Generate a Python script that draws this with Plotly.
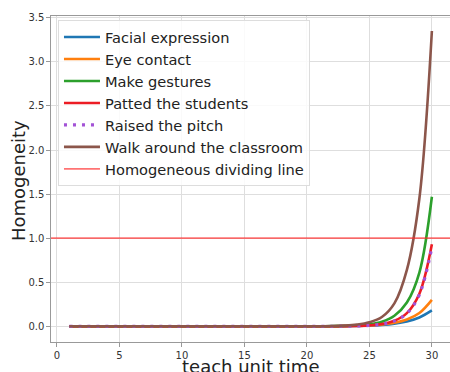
import plotly.graph_objects as go

# ---- data ----
teach_time = list(range(1, 31))

facial_expression = [0.0, 0.0, 0.0, 0.0, 0.0, 0.0, 0.0, 0.0, 0.0, 0.0,
                     0.0, 0.0, 0.0, 0.00001, 0.00002, 0.00004, 0.00007, 0.00012, 0.0002, 0.00035,
                     0.0007, 0.0013, 0.0024, 0.0045, 0.0085, 0.016, 0.03, 0.055, 0.10, 0.18]
eye_contact = [0.0, 0.0, 0.0, 0.0, 0.0, 0.0, 0.0, 0.0, 0.0, 0.0,
               0.0, 0.0, 0.0, 0.00001, 0.00002, 0.00004, 0.00007, 0.00012, 0.0002, 0.00035,
               0.0007, 0.0014, 0.0028, 0.0055, 0.011, 0.021, 0.04, 0.077, 0.15, 0.30]
make_gestures = [0.0, 0.0, 0.0, 0.0, 0.0, 0.0, 0.0, 0.0, 0.0, 0.0,
                 0.0, 0.0, 0.0, 0.0, 0.0, 0.00001, 0.00002, 0.00004, 0.0001, 0.0003,
                 0.0007, 0.0017, 0.004, 0.0095, 0.022, 0.052, 0.12, 0.27, 0.61, 1.47]
patted_students = [0.0, 0.0, 0.0, 0.0, 0.0, 0.0, 0.0, 0.0, 0.0, 0.0,
                   0.0, 0.0, 0.0, 0.0, 0.0, 0.0, 0.00001, 0.00003, 0.00006, 0.00015,
                   0.0003, 0.0008, 0.0019, 0.0045, 0.011, 0.026, 0.063, 0.15, 0.37, 0.93]
raised_pitch = [0.0, 0.0, 0.0, 0.0, 0.0, 0.0, 0.0, 0.0, 0.0, 0.0,
                0.0, 0.0, 0.0, 0.0, 0.0, 0.0, 0.00001, 0.00003, 0.00006, 0.00015,
                0.0003, 0.0008, 0.0018, 0.0044, 0.0105, 0.025, 0.061, 0.146, 0.36, 0.90]
walk_classroom = [0.0, 0.0, 0.0, 0.0, 0.0, 0.0, 0.0, 0.0, 0.0, 0.0,
                  0.0, 0.0, 0.0, 0.0, 0.00001, 0.00002, 0.00005, 0.0001, 0.0003, 0.0006,
                  0.0015, 0.0035, 0.008, 0.019, 0.045, 0.105, 0.26, 0.64, 1.45, 3.35]

threshold = 1.0
x_title = "teach unit time"
y_title = "Homogeneity"

series = [
    ("Facial expression", facial_expression, "#1f77b4", "solid"),
    ("Eye contact", eye_contact, "#ff7f0e", "solid"),
    ("Make gestures", make_gestures, "#2ca02c", "solid"),
    ("Patted the students", patted_students, "#ec1c24", "solid"),
    ("Raised the pitch", raised_pitch, "#a352d6", "3px,6px"),
    ("Walk around the classroom", walk_classroom, "#8c564b", "solid"),
]

fig = go.Figure()
for name, vals, color, dash in series:
    fig.add_trace(go.Scatter(
        x=teach_time, y=vals, mode="lines", name=name,
        line=dict(color=color, width=2.6 if dash == "solid" else 3.2,
                  dash=dash, shape="spline"),
    ))

fig.add_shape(type="line", xref="paper", x0=0, x1=1, yref="y", y0=threshold, y1=threshold,
              line=dict(color="rgba(255,40,40,0.65)", width=1.6),
              showlegend=True, name="Homogeneous dividing line", layer="above")

axis_common = dict(
    showgrid=True, gridcolor="#dedede", gridwidth=1,
    showline=True, linecolor="#999999", linewidth=1.2, mirror=True,
    ticks="outside", ticklen=3.5, tickcolor="#999999", tickwidth=1,
    tickfont=dict(family="DejaVu Sans", size=10, color="#333333"),
    zeroline=False, automargin=False,
)

fig.update_layout(
    width=450, height=372,
    margin=dict(l=51, r=0, t=16, b=30),
    paper_bgcolor="white", plot_bgcolor="white",
    font=dict(family="DejaVu Sans", color="#222222"),
    xaxis=dict(range=[-0.47, 31.45], tickvals=[0, 5, 10, 15, 20, 25, 30], **axis_common),
    yaxis=dict(range=[-0.178, 3.52], tickvals=[0, 0.5, 1, 1.5, 2, 2.5, 3, 3.5],
               tickformat=".1f", **axis_common),
    legend=dict(x=0.0175, y=0.9877, xanchor="left", yanchor="top",
                bgcolor="rgba(255,255,255,0.85)", bordercolor="#dddddd", borderwidth=1,
                itemwidth=36,
                font=dict(family="DejaVu Sans", size=14.6, color="#222222")),
    showlegend=True,
)

fig.add_annotation(text=x_title, xref="paper", yref="paper", x=0.5, y=-0.0368,
                   xanchor="center", yanchor="top", showarrow=False,
                   font=dict(family="DejaVu Sans", size=18, color="#222222"))
fig.add_annotation(text=y_title, xref="paper", yref="paper", x=-0.0815, y=0.495,
                   xanchor="center", yanchor="middle", textangle=-90, showarrow=False,
                   font=dict(family="DejaVu Sans", size=18, color="#222222"))

fig.write_html("out.html")
